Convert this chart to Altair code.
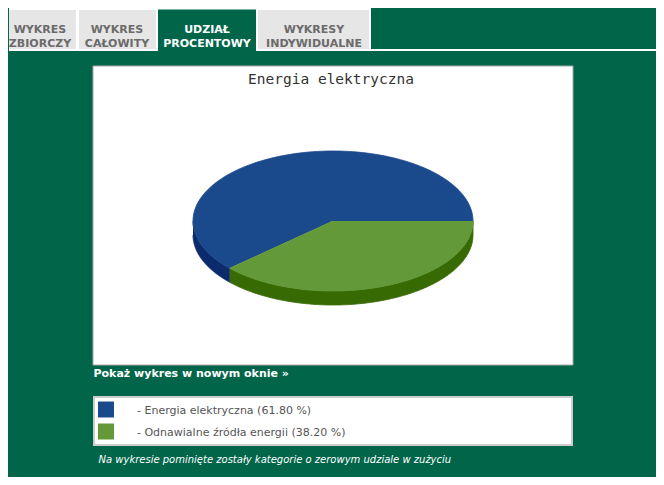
import altair as alt
import pandas as pd

# ---- data ----
kategorie = ["Energia elektryczna", "Odnawialne źródła energii"]
udzialy = [61.80, 38.20]
kolejnosc = [0, 1]

tytul = "Energia elektryczna"
zakladki = ["WYKRES\nZBIORCZY", "WYKRES\nCAŁOWITY", "UDZIAŁ\nPROCENTOWY", "WYKRESY\nINDYWIDUALNE"]
link = "Pokaż wykres w nowym oknie »"
przypis = "Na wykresie pominięte zostały kategorie o zerowym udziale w zużyciu"

# ---- style ----
kolory_gora = ["#1a4a8c", "#64993a"]
kolory_bok = ["#0c2b6c", "#386a04"]
TLO = "#006549"
FONT = "DejaVu Sans"

df = pd.DataFrame({"kategoria": kategorie, "udzial": udzialy, "nr": kolejnosc})
jeden = alt.Data(values=[{"d": 1}])

# pie geometry (pixels in chart space)
CX, CY, RX, RY = 324, 213, 140, 70
GLEB = 0.2
N = 120
sx = alt.Scale(domain=[-1, 1], range=[CX - RX, CX + RX], nice=False, zero=False)
sy = alt.Scale(domain=[-1, 1], range=[CY + RY, CY - RY], nice=False, zero=False)


def prost(x, x2, y, y2, kolor, obrys=None, sw=0):
    kw = dict(fill=kolor, strokeWidth=sw)
    if obrys:
        kw["stroke"] = obrys
    return alt.Chart(jeden).mark_rect(**kw).encode(
        x=alt.value(x), x2=alt.value(x2), y=alt.value(y), y2=alt.value(y2))


def napis(tekst, x, y, **styl):
    return alt.Chart(jeden).mark_text(text=tekst, **styl).encode(
        x=alt.value(x), y=alt.value(y))


# ---- decorations ----
warstwy = []
warstwy.append(prost(0, 362, 0, 43, "#ffffff"))
warstwy.append(prost(0, 648, 41, 43, "#ffffff"))
warstwy.append(prost(0, 67, 2, 41, "#e6e6e6"))
warstwy.append(prost(70, 147, 2, 41, "#e6e6e6"))
warstwy.append(prost(149, 247, 1.5, 44, TLO))
warstwy.append(prost(249, 360, 2, 41, "#e6e6e6"))

srodki = [31, 108, 198, 305]
for i, (z, sxz) in enumerate(zip(zakladki, srodki)):
    warstwy.append(napis(z, sxz, 21.5, align="center", baseline="middle", lineBreak="\n",
                         lineHeight=14.5, font=FONT, fontSize=11, fontWeight="bold",
                         color="#ffffff" if i == 2 else "#6b6b6b"))

warstwy.append(prost(84, 564, 58, 357, "#ffffff", "#a8a8a8", 1))
warstwy.append(napis(tytul, 322, 72, align="center", baseline="middle",
                     font="DejaVu Sans Mono", fontSize=14.5, color="#333333"))
warstwy.append(napis(link, 84.5, 366, align="left", baseline="middle", font=FONT,
                     fontSize=11, fontWeight="bold", color="#ffffff"))
warstwy.append(prost(85, 563, 389, 437, "#ffffff", "#cccccc", 2))
warstwy.append(napis(przypis, 89.5, 451.5, align="left", baseline="middle", font=FONT,
                     fontSize=10, fontStyle="italic", color="#ffffff"))

# ---- pie ----
baza = (
    alt.Chart(df)
    .transform_joinaggregate(suma="sum(udzial)")
    .transform_window(koniec="sum(udzial)", sort=[alt.SortField("nr")], frame=[None, 0])
    .transform_calculate(a0="2*PI*(datum.koniec - datum.udzial)/datum.suma")
    .transform_calculate(a1="2*PI*datum.koniec/datum.suma")
)

bok = (
    baza.transform_calculate(b0="max(datum.a0, PI)")
    .transform_calculate(b1="min(datum.a1, 2*PI)")
    .transform_filter("datum.b1 > datum.b0")
    .transform_calculate(k=f"sequence(0, {2 * N + 2})")
    .transform_flatten(["k"])
    .transform_calculate(
        t=f"datum.k <= {N} ? datum.b0 + (datum.b1 - datum.b0) * datum.k / {N} : "
          f"datum.b1 - (datum.b1 - datum.b0) * (datum.k - {N + 1}) / {N}")
    .transform_calculate(px="cos(datum.t)")
    .transform_calculate(py=f"sin(datum.t) - (datum.k > {N} ? {GLEB} : 0)")
    .mark_line(strokeWidth=0.8, strokeJoin="round")
    .encode(
        x=alt.X("px:Q", scale=sx, axis=None),
        y=alt.Y("py:Q", scale=sy, axis=None),
        order=alt.Order("k:Q"),
        fill=alt.Fill("kategoria:N", scale=alt.Scale(domain=kategorie, range=kolory_bok), legend=None),
        stroke=alt.Stroke("kategoria:N", scale=alt.Scale(domain=kategorie, range=kolory_bok), legend=None),
    )
)

gora = (
    baza.transform_calculate(k=f"sequence(0, {N + 2})")
    .transform_flatten(["k"])
    .transform_calculate(t=f"datum.a0 + (datum.a1 - datum.a0) * (datum.k - 1) / {N}")
    .transform_calculate(px="datum.k == 0 ? 0 : cos(datum.t)")
    .transform_calculate(py="datum.k == 0 ? 0 : sin(datum.t)")
    .mark_line(strokeWidth=0.8, strokeJoin="round")
    .encode(
        x=alt.X("px:Q", scale=sx, axis=None),
        y=alt.Y("py:Q", scale=sy, axis=None),
        order=alt.Order("k:Q"),
        fill=alt.Fill("kategoria:N", scale=alt.Scale(domain=kategorie, range=kolory_gora), legend=None),
        stroke=alt.Stroke("kategoria:N", scale=alt.Scale(domain=kategorie, range=kolory_gora), legend=None),
    )
)

# ---- legend ----
leg_y = alt.Y("kategoria:N", axis=None,
              scale=alt.Scale(type="point", domain=kategorie, range=[401.5, 423.5], padding=0))
kwadraty = alt.Chart(df).mark_square(size=256, opacity=1).encode(
    x=alt.value(97), y=leg_y,
    fill=alt.Fill("kategoria:N", scale=alt.Scale(domain=kategorie, range=kolory_gora), legend=None),
)
etykiety = (
    alt.Chart(df)
    .transform_calculate(etykieta="'- ' + datum.kategoria + ' (' + format(datum.udzial, '.2f') + ' %)'")
    .mark_text(align="left", baseline="middle", dy=1.5, font=FONT, fontSize=11, color="#555555")
    .encode(x=alt.value(128), y=leg_y, text="etykieta:N")
)

chart = (
    alt.layer(*warstwy, bok, gora, kwadraty, etykiety)
    .resolve_scale(x="independent", y="independent", fill="independent", stroke="independent")
    .properties(width=648, height=469, padding=0,
                autosize=alt.AutoSizeParams(type="fit", contains="padding"))
    .configure(background=TLO)
    .configure_view(stroke=None)
)

chart.save("out.html", embed_options={"renderer": "svg", "actions": False})
